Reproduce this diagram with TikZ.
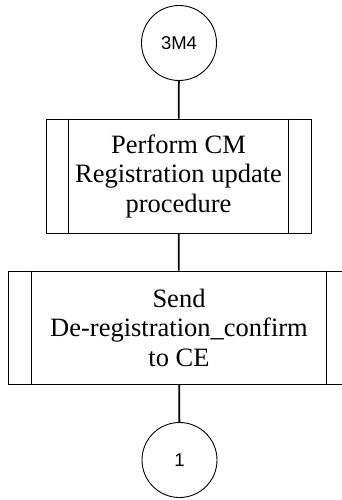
\documentclass[tikz,border=0pt]{standalone}
\usepackage{fontspec}
\setmainfont{Liberation Serif}
\newfontfamily\arialf{Liberation Sans}
\begin{document}
\begin{tikzpicture}[x=1pt,y=-1pt,
  conn/.style={circle,draw,line width=0.9pt,minimum size=75pt,inner sep=0pt,font=\arialf\fontsize{18.5}{20}\selectfont},
  procbox/.style={rectangle,draw,line width=0.8pt,inner sep=0pt,align=center,font=\fontsize{26.5}{29.5}\selectfont},
  flow/.style={line width=1.8pt}]
\useasboundingbox (0,0) rectangle (342,500);
\clip (0,0) rectangle (342,500);
\node[conn] (c1) at (179,43) {3M4};
\node[procbox,minimum width=265pt,minimum height=114pt] (b1) at (178.5,176) {Perform CM\\Registration update\\procedure};
\node[procbox,minimum width=342pt,minimum height=113pt] (b2) at (179,327.5) {Send\\De-registration\_confirm\\to CE};
\node[conn] (c2) at (179.5,460) {1};
\draw[line width=0.8pt] ([xshift=23pt]b1.north west) -- ([xshift=23pt]b1.south west);
\draw[line width=0.8pt] ([xshift=-23pt]b1.north east) -- ([xshift=-23pt]b1.south east);
\draw[line width=0.8pt] ([xshift=24pt]b2.north west) -- ([xshift=24pt]b2.south west);
\draw[line width=0.8pt] ([xshift=-24pt]b2.north east) -- ([xshift=-24pt]b2.south east);
\draw[flow] (c1) -- (b1);
\draw[flow] (b1) -- (b2);
\draw[flow] (b2) -- (c2);
\end{tikzpicture}
\end{document}
